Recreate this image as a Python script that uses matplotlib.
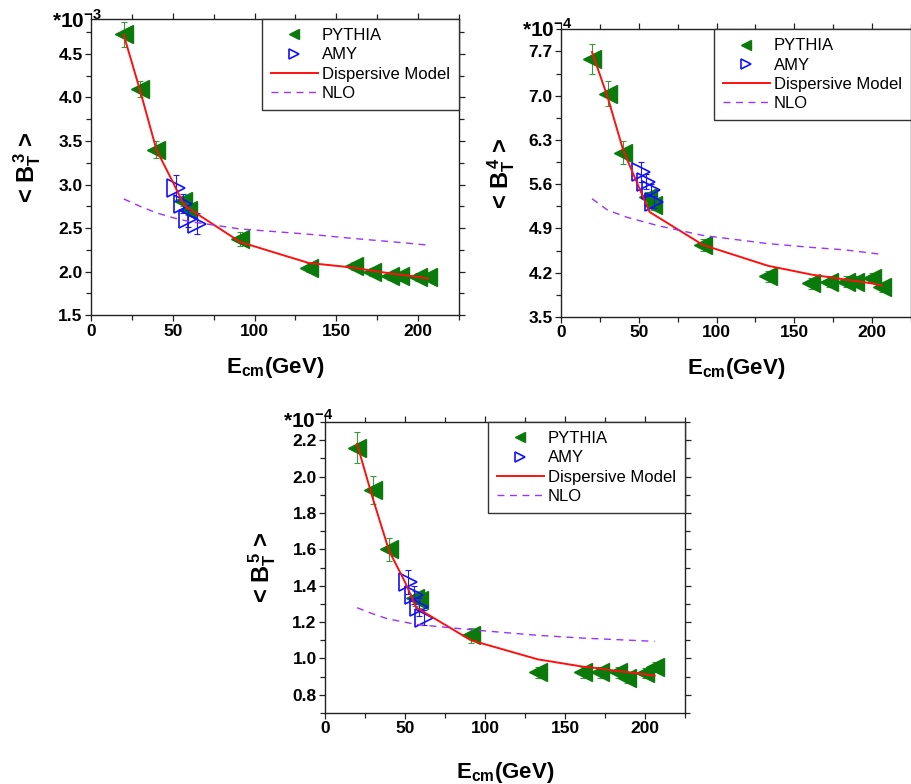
import numpy as np
import matplotlib
matplotlib.use('Agg')
import matplotlib.pyplot as plt
from matplotlib.ticker import MultipleLocator

plt.rcParams['font.family'] = 'Liberation Sans'
plt.rcParams['mathtext.fontset'] = 'custom'
plt.rcParams['mathtext.rm'] = 'Liberation Sans'
plt.rcParams['mathtext.bf'] = 'Liberation Sans:bold'

# energies (GeV)
e_pythia = [20, 30, 40, 56, 59, 91.2, 133, 161, 172, 183, 189, 200, 206]
e_model = [20, 30, 40, 50, 57, 91.2, 133, 161, 172, 183, 189, 200, 206]

# <B_T^3>  (*10^-3)
bt3_pythia = [4.725, 4.095, 3.40, 2.81, 2.71, 2.375, 2.045, 2.065, 1.995, 1.95, 1.945, 1.94, 1.94]
bt3_pythia_err = [0.14, 0.095, 0.095, 0.06, 0.06, 0.075, 0.05, 0.05, 0.05, 0.05, 0.05, 0.05, 0.05]
bt3_e_amy = [52, 56, 59.5, 64.5]
bt3_amy = [2.96, 2.78, 2.61, 2.55]
bt3_amy_err = [0.145, 0.11, 0.1, 0.12]
bt3_model = [4.72, 4.08, 3.40, 3.03, 2.76, 2.34, 2.10, 2.045, 2.01, 1.98, 1.965, 1.94, 1.92]
bt3_e_nlo = [20, 30, 40, 50, 60, 75, 91.2, 133, 161, 183, 206]
bt3_nlo = [2.835, 2.75, 2.675, 2.62, 2.575, 2.535, 2.49, 2.43, 2.38, 2.345, 2.305]

# <B_T^4>  (*10^-4)
bt4_pythia = [7.58, 7.03, 6.095, 5.40, 5.27, 4.64, 4.14, 4.03, 4.06, 4.06, 4.06, 4.11, 3.98]
bt4_pythia_err = [0.23, 0.2, 0.18, 0.08, 0.08, 0.1, 0.08, 0.08, 0.08, 0.08, 0.08, 0.08, 0.08]
bt4_e_amy = [51.6, 54.8, 58, 60.1]
bt4_amy = [5.795, 5.64, 5.51, 5.32]
bt4_amy_err = [0.16, 0.12, 0.1, 0.1]
bt4_model = [7.69, 6.98, 6.14, 5.56, 5.16, 4.64, 4.31, 4.17, 4.13, 4.09, 4.07, 4.03, 4.0]
bt4_e_nlo = [20, 30, 42, 63, 91.2, 133, 161, 183, 206]
bt4_nlo = [5.37, 5.19, 5.08, 4.94, 4.79, 4.66, 4.6, 4.56, 4.49]

# <B_T^5>  (*10^-4)
bt5_pythia = [2.16, 1.926, 1.60, 1.33, 1.32, 1.127, 0.925, 0.925, 0.925, 0.925, 0.895, 0.92, 0.953]
bt5_pythia_err = [0.087, 0.076, 0.062, 0.04, 0.04, 0.04, 0.03, 0.03, 0.03, 0.03, 0.03, 0.03, 0.03]
bt5_e_amy = [52, 55.5, 59, 61.6]
bt5_amy = [1.42, 1.35, 1.285, 1.225]
bt5_amy_err = [0.065, 0.05, 0.05, 0.04]
bt5_model = [2.18, 1.876, 1.593, 1.42, 1.28, 1.10, 0.995, 0.955, 0.945, 0.93, 0.925, 0.913, 0.905]
bt5_e_nlo = [20, 30, 39, 57, 91.2, 133, 161, 206]
bt5_nlo = [1.279, 1.245, 1.218, 1.187, 1.158, 1.127, 1.112, 1.094]


def panel(ax, pythia, perr, e_amy, amy, aerr, model, e_nlo, nlo,
          ylim, ystep, power, ylab, ylab_x, xlab_y, off_xy):
    ax.errorbar(e_pythia, pythia, yerr=perr, fmt='none', ecolor='#3a9a3a',
                elinewidth=0.8, capsize=2.5, capthick=0.8, zorder=2)
    ax.plot(e_pythia, pythia, '<', color='#0a7a0a', ms=13, ls='none',
            label='PYTHIA', zorder=3)
    ax.errorbar(e_amy, amy, yerr=aerr, fmt='none', ecolor='#1a1aff',
                elinewidth=0.8, capsize=2.5, capthick=0.8, zorder=4)
    ax.plot(e_amy, amy, '>', mfc='none', mec='#1010ff', mew=1.2, ms=13,
            ls='none', label='AMY', zorder=4)
    ax.plot(e_model, model, '-', color='#ff1010', lw=1.4,
            label='Dispersive Model', zorder=5)
    ax.plot(e_nlo, nlo, '--', color='#9933ff', lw=1.0, dashes=(5, 4),
            label='NLO', zorder=5)

    ax.set_xlim(0, 225)
    ax.set_ylim(*ylim)
    ax.xaxis.set_major_locator(MultipleLocator(50))
    ax.xaxis.set_minor_locator(MultipleLocator(25))
    ax.yaxis.set_major_locator(MultipleLocator(ystep))
    ax.yaxis.set_minor_locator(MultipleLocator(ystep / 2))
    ax.tick_params(which='both', direction='out', top=True, right=True,
                   width=0.9, color='#222222')
    ax.tick_params(which='major', length=4, labelsize=12.5, pad=2)
    ax.tick_params(which='minor', length=3.5)
    for lab in ax.get_xticklabels() + ax.get_yticklabels():
        lab.set_fontweight('bold')
    for sp in ax.spines.values():
        sp.set_linewidth(1.0)
        sp.set_color('#222222')

    ax.set_xlabel(r'$\mathbf{E_{cm}(GeV)}$', fontsize=16)
    ax.xaxis.set_label_coords(0.5, xlab_y)
    ax.xaxis.label.set_va('top')
    ax.set_ylabel(ylab, fontsize=17, fontweight='bold')
    ax.yaxis.set_label_coords(ylab_x, 0.5)
    ax.text(off_xy[0], off_xy[1], r'*10$^{\mathbf{%d}}$' % power,
            transform=ax.transAxes, fontsize=15, fontweight='bold',
            ha='left', va='top')

    leg = ax.legend(loc='upper right', fontsize=12, numpoints=1,
                    markerscale=0.6, fancybox=False, framealpha=1,
                    edgecolor='#333333', borderaxespad=0, borderpad=0.55,
                    labelspacing=0.25, handlelength=2.8, handletextpad=0.25)
    leg.get_frame().set_linewidth(1.0)


fig = plt.figure(figsize=(9.12, 7.84), dpi=100)
ax1 = fig.add_axes([0.0998, 0.598, 0.4035, 0.3776])
ax2 = fig.add_axes([0.615, 0.5957, 0.384, 0.367])
ax3 = fig.add_axes([0.3564, 0.0906, 0.3947, 0.371])

panel(ax1, bt3_pythia, bt3_pythia_err, bt3_e_amy, bt3_amy, bt3_amy_err,
      bt3_model, bt3_e_nlo, bt3_nlo, (1.5, 4.9), 0.5, -3,
      r'< $\mathbf{B_T^{\,3}}$ >', -0.13, -0.135, (-0.105, 1.035))
panel(ax2, bt4_pythia, bt4_pythia_err, bt4_e_amy, bt4_amy, bt4_amy_err,
      bt4_model, bt4_e_nlo, bt4_nlo, (3.5, 8.05), 0.7, -4,
      r'< $\mathbf{B_T^{\,4}}$ >', -0.125, -0.135, (-0.112, 1.04))
panel(ax3, bt5_pythia, bt5_pythia_err, bt5_e_amy, bt5_amy, bt5_amy_err,
      bt5_model, bt5_e_nlo, bt5_nlo, (0.7, 2.3), 0.2, -4,
      r'< $\mathbf{B_T^{\,5}}$ >', -0.13, -0.16, (-0.117, 1.045))

fig.savefig('out.png', dpi=100)
